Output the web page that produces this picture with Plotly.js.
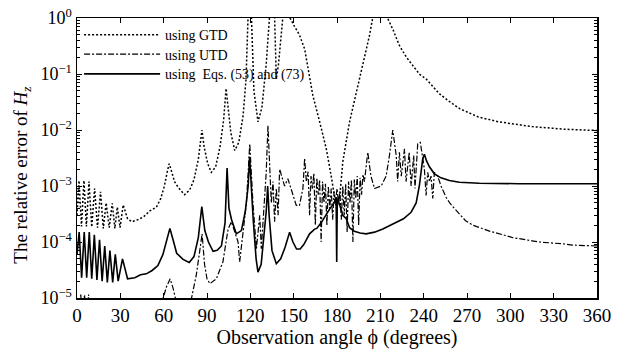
<!DOCTYPE html>
<html>
<head>
<meta charset="utf-8">
<script src="https://cdn.plot.ly/plotly-3.0.1.min.js"></script>
<style>html,body{margin:0;padding:0;background:#fff}#chart{width:618px;height:354px}</style>
</head>
<body>
<div id="chart"></div>
<script>
// ---- data ----
// using GTD (dotted)
const gtdX = [0,1.4,3.1,4.8,6.5,8.3,10.2,12.2,14.2,16.3,18.2,20.2,22.3,24.4,26.2,27.9,29.8,32,35,38,42,46,50.4,55,58,60.5,62.5,63.8,65,67.5,70,74.5,78,81,84,86,86.5,88,90.5,93,96,99,101.5,103.2,104.5,106.5,109.2,112,115,117,118.5,119.2,120,120.7,122.5,125.3,128,131,133.4,134.5,136,136.8,138,139.5,142.6,144,146,147.5,150,154,157.6,160,163.3,168,172.6,176,178.3,179.6,181.8,184,188.7,193.3,197.9,202.5,205,208,212,215,219,223,228,232.4,237,242,251,258,265,278,292,315,338,360];
const gtdY = [3e-4,1.25e-3,1.9e-4,1.25e-3,1.9e-4,1.2e-3,1.85e-4,9e-4,1.8e-4,7.9e-4,1.75e-4,5e-4,1.8e-4,4.9e-4,1.75e-4,4.2e-4,1.8e-4,4.6e-4,2.6e-4,2.3e-4,2.5e-4,2.8e-4,3.6e-4,4.2e-4,6e-4,1e-3,1.8e-3,2.5e-3,2e-3,1.2e-3,9.5e-4,7e-4,8.5e-4,1.3e-3,3e-3,9e-3,1e-2,5e-3,2.5e-3,1.75e-3,2.2e-3,5e-3,1.5e-2,5.5e-2,2.5e-2,9e-3,4.3e-3,6e-3,1.8e-2,8e-2,1.2,3,3,1.2,5e-2,1.4e-2,2.5e-2,0.15,1.1,3,3,1.0,8.2e-2,0.15,1.1,3,3,1.0,0.75,0.5,0.28,0.12,4.1e-2,1.4e-2,4.6e-3,1.5e-3,6e-4,4e-4,6e-4,2.7e-3,1.4e-2,4.7e-2,0.14,0.49,1.1,3,3,1.0,0.6,0.33,0.2,0.14,0.1,8e-2,4.4e-2,3.2e-2,2.4e-2,1.7e-2,1.4e-2,1.15e-2,1.03e-2,9.8e-3];

// using UTD (dash-dot)
const utdX = [0,1.8,2.6,3.4,4.4,5.2,6.0,7.2,8.0,8.8,20,40,55,59.6,62,64.5,66.5,68.5,74,79.3,82.5,85,86.6,88.3,90,92,96.5,101,103.5,104.6,106.9,109,111.5,112.6,115,117.3,119.6,121.8,124.2,126.5,127.6,129.5,131,132.2,133.4,134.5,135.7,136.8,138,139.2,140.3,141.5,143.7,146,148.3,151.8,154,156.4,157.6,158.8,160,161,162,163,164,165,166,167,168,169,170,171,172,173,174,175,176,177,178,179,180,181,182,183,184,185,186,187,188,189,190,191,192,193,194,195,196,197,198,199,201.3,203.5,206,208,210.6,214,216.3,218.6,221,222,223.2,224.5,226.7,227.8,230,231.3,233.1,234,235.9,237.7,239.3,240.5,241.7,242.8,244,245.1,246.3,247.4,249.7,252,255.5,258,261.2,264.7,269,274,281,286,297,301.5,315,320,338,343,360];
const utdY = [4e-6,6e-6,1.15e-5,6e-6,6e-6,1.15e-5,6e-6,6e-6,1.15e-5,6e-6,3e-6,2e-6,4e-6,1e-5,1.6e-5,2.2e-5,1.5e-5,9e-6,5e-6,1e-5,2.5e-5,7e-5,1.4e-4,4e-5,2.2e-5,1.8e-5,2.2e-5,4.4e-5,1e-4,1.7e-4,2.3e-4,1.5e-4,1e-4,4.4e-5,1.7e-4,5e-4,5.7e-3,5e-4,7.6e-5,3e-4,7.6e-5,4.5e-4,1.75e-3,1.2e-2,1.5e-3,5e-4,1.2e-3,2.3e-4,9e-4,3e-4,2e-3,1.5e-3,1e-3,1.35e-3,9e-4,4.5e-4,4.5e-4,9e-4,3.1e-3,1.2e-3,1.8e-3,3e-4,1.5e-3,9e-4,1.7e-3,2e-4,1.4e-3,7e-4,1.3e-3,1e-4,1.2e-3,5e-4,1.1e-3,2e-4,1e-3,4e-4,9e-4,2.5e-4,8e-4,5e-4,9e-4,5e-4,8e-4,2.5e-4,1e-3,3e-4,1.1e-3,1.5e-4,1.2e-3,5e-4,1.3e-3,1e-4,1.3e-3,6e-4,1.5e-3,2e-4,1.4e-3,7e-4,1.6e-3,1.2e-3,4e-3,1.5e-3,9e-4,9.5e-4,1e-3,1.5e-3,3.5e-3,1e-2,3.5e-3,1.2e-3,4e-3,1.5e-3,4.6e-3,1.2e-3,4e-3,1e-3,3.5e-3,9e-4,5.7e-3,6e-3,3.5e-3,2e-3,6.8e-4,1.75e-3,1.2e-3,1.5e-3,6e-4,1.75e-3,1.5e-3,1e-3,6.3e-4,5e-4,4e-4,3.2e-4,2.4e-4,2e-4,1.7e-4,1.55e-4,1.3e-4,1.2e-4,1.05e-4,1e-4,9.2e-5,8.8e-5,8.5e-5];

// using Eqs. (53) and (73) (solid)
const eqX = [0,1.5,3.2,5.0,6.7,8.5,10.2,12.0,13.8,15.6,17.4,19.2,21.0,22.8,24.7,26.5,28.5,31.5,35,40,44,48,52,56,59.5,62,64.3,66.5,69,73.4,77.7,81,84,86.4,88.5,91,94.2,97,100,102.5,103.9,105.2,107,110.3,113.8,116.5,118.5,119.5,120.5,122,124,125.3,127.5,129.5,131,132,133,135,138,141,144,147.2,149.5,152,154.5,157,161,164.5,166,169,172,175,178,179.4,179.8,180.2,182,184,186.4,188.7,192,196,200.2,206,211.7,219.8,226,231.3,234.8,237,239.3,240.5,242,244,247.4,252,257.8,264.7,278.5,306,360];
const eqY = [6e-5,1.5e-4,2.3e-5,1.5e-4,2.3e-5,1.5e-4,2.2e-5,1.35e-4,2.1e-5,1.1e-4,2.0e-5,8.5e-5,1.9e-5,7e-5,1.9e-5,6e-5,2.0e-5,5e-5,2.2e-5,2.3e-5,2.6e-5,2.7e-5,3.1e-5,3.8e-5,6e-5,1e-4,1.75e-4,1.1e-4,6.3e-5,4.9e-5,4.3e-5,5.5e-5,1.2e-4,4.3e-4,1.6e-4,1e-4,6.8e-5,7.1e-5,8.5e-5,2.2e-4,2.1e-3,4e-4,2.5e-4,1.4e-4,1.6e-4,3.5e-4,1e-3,3.3e-3,1e-3,2.5e-4,5e-5,2.9e-5,4e-5,1.2e-4,3.5e-4,1e-3,3e-4,7e-5,4.1e-5,5e-5,8e-5,1.5e-4,1e-4,7.5e-5,7.5e-5,9e-5,1.4e-4,1.7e-4,1.75e-4,2.2e-4,3e-4,3.9e-4,5e-4,6.3e-4,4.4e-5,6e-4,4.5e-4,3e-4,2.6e-4,1.8e-4,1.55e-4,1.45e-4,1.4e-4,1.5e-4,1.7e-4,2.2e-4,2.6e-4,3.4e-4,5e-4,1e-3,3e-3,3.7e-3,2.8e-3,2.2e-3,1.65e-3,1.4e-3,1.25e-3,1.17e-3,1.12e-3,1.1e-3,1.1e-3];

const seriesNames = ['using GTD', 'using UTD', 'using  Eqs. (53) and (73)'];
const xTicks = [0,30,60,90,120,150,180,210,240,270,300,330,360];
const yTickVals = [1e-5,1e-4,1e-3,1e-2,1e-1,1];
const yTickText = ['10<sup>\u22125</sup>','10<sup>\u22124</sup>','10<sup>\u22123</sup>','10<sup>\u22122</sup>','10<sup>\u22121</sup>','10<sup>0</sup>'];
const yTitle = 'The relative error of <i>H<sub>z</sub></i>';
const xTitle = 'Observation angle \u03d5 (degrees)';

// minor tick positions (2..9 × each decade)
const minorVals = [];
for (let e = -5; e < 0; e++) for (let m = 2; m <= 9; m++) minorVals.push(m * Math.pow(10, e));

const serif = 'Liberation Serif, Times New Roman, serif';

const traces = [
  {x: gtdX, y: gtdY, name: seriesNames[0], legend: 'legend', mode: 'lines', line: {color: '#000', width: 1.5, dash: '2px,2px'}},
  {x: utdX, y: utdY, name: seriesNames[1], legend: 'legend2', mode: 'lines', line: {color: '#000', width: 1.2, dash: '6px,2px,2px,2px'}},
  {x: eqX, y: eqY, name: seriesNames[2], legend: 'legend3', mode: 'lines', line: {color: '#000', width: 1.6}}
];

function legendAt(yPaper) {
  return {x: 0.004, y: yPaper, xanchor: 'left', yanchor: 'top', bgcolor: 'rgba(0,0,0,0)',
          font: {family: serif, size: 14, color: '#000'}, itemwidth: 76};
}

const layout = {
  width: 618, height: 354,
  margin: {l: 77, r: 21, t: 18, b: 56},
  paper_bgcolor: '#fff', plot_bgcolor: '#fff',
  font: {family: serif, color: '#000', size: 18},
  showlegend: true,
  legend: legendAt(0.996),
  legend2: legendAt(0.927),
  legend3: legendAt(0.856),
  xaxis: {
    range: [0, 360], tickvals: xTicks, ticktext: xTicks.map(String),
    ticks: 'inside', ticklen: 5, tickwidth: 1, tickcolor: '#000',
    showline: true, linecolor: '#000', linewidth: 1.5, mirror: 'ticks',
    showgrid: false, zeroline: false,
    tickfont: {family: serif, size: 19},
    title: {text: xTitle, font: {family: serif, size: 20}, standoff: 4}
  },
  yaxis: {
    type: 'log', range: [-5, 0], tickvals: yTickVals, ticktext: yTickText,
    ticks: 'inside', ticklen: 5, tickwidth: 1, tickcolor: '#000',
    minor: {tickvals: minorVals, ticks: 'inside', ticklen: 3, tickwidth: 1, tickcolor: '#000'},
    showline: true, linecolor: '#000', linewidth: 1.5, mirror: 'ticks',
    showgrid: false, zeroline: false,
    tickfont: {family: serif, size: 18}
  },
  annotations: [{
    text: yTitle, textangle: -90, xref: 'paper', yref: 'paper',
    x: -0.106, y: 0.44, xanchor: 'center', yanchor: 'middle', showarrow: false,
    font: {family: serif, size: 19, color: '#000'}
  }]
};

Plotly.newPlot('chart', traces, layout, {displayModeBar: false, staticPlot: true});
</script>
</body>
</html>
